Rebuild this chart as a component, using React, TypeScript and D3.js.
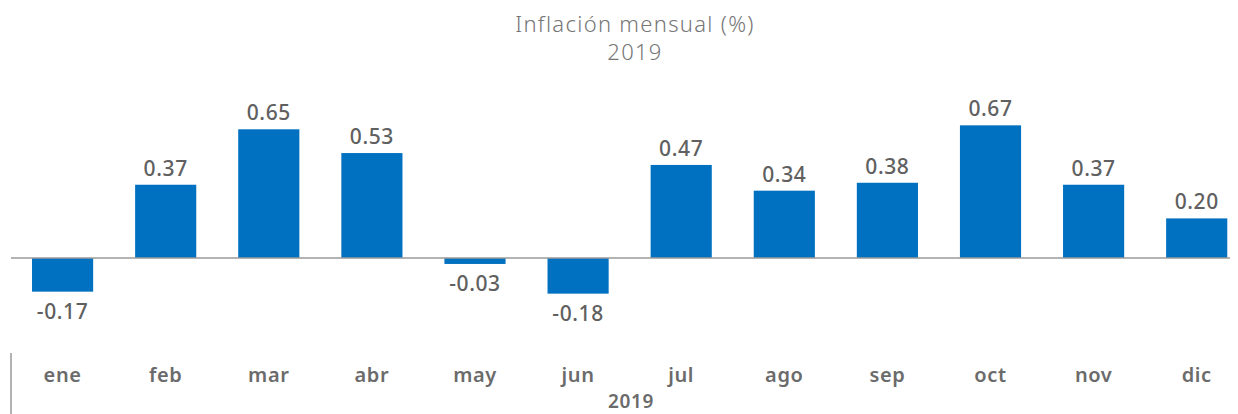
import React from "react";
import * as d3 from "d3";

const months = ["ene", "feb", "mar", "abr", "may", "jun", "jul", "ago", "sep", "oct", "nov", "dic"];
const inflation = [-0.17, 0.37, 0.65, 0.53, -0.03, -0.18, 0.47, 0.34, 0.38, 0.67, 0.37, 0.2];
const titleLines = ["Inflación mensual (%)", "2019"];
const axisTitle = "2019";

const App = () => {
  const width = 1238;
  const height = 414;
  const font = "'Noto Sans', 'Open Sans', sans-serif";

  const x = d3.scaleBand<string>().domain(months).range([11.4, 1247.9]).paddingInner(0.407).paddingOuter(0.2);
  const y = d3.scaleLinear().domain([0, 1]).range([258, 60]);

  return (
    <svg width={width} height={height} style={{ position: "absolute", left: 0, top: 0 }}>
      <rect width={width} height={height} fill="#fff" />
      {titleLines.map((t, i) => (
        <text
          key={i}
          x={635}
          y={32 + i * 28}
          textAnchor="middle"
          fontFamily={font}
          fontSize={22}
          letterSpacing={1.3}
          fill="#767676"
          fontWeight={300}
        >
          {t}
        </text>
      ))}
      {inflation.map((v, i) => {
        const bx = x(months[i])!;
        const top = Math.min(y(v), y(0));
        const h = Math.abs(y(v) - y(0));
        const lx = bx + x.bandwidth() / 2;
        return (
          <g key={i}>
            <rect x={bx} y={top} width={x.bandwidth()} height={h} fill="#0070C0" />
            <text
              x={lx}
              y={v >= 0 ? y(v) - 9 : y(v) + 27}
              textAnchor="middle"
              fontFamily={font}
              fontSize={21}
              letterSpacing={0.6}
              fontWeight={500}
              fill="#606060"
            >
              {v.toFixed(2)}
            </text>
            <text
              x={lx}
              y={382}
              textAnchor="middle"
              fontFamily={font}
              fontSize={20}
              letterSpacing={0.6}
              fontWeight={600}
              fill="#6b6b6b"
            >
              {months[i]}
            </text>
          </g>
        );
      })}
      <line x1={11} x2={1230} y1={y(0)} y2={y(0)} stroke="#9a9a9a" strokeWidth={1.5} />
      <line x1={11} x2={11} y1={353} y2={414} stroke="#9a9a9a" strokeWidth={1.5} />
      <text
        x={631}
        y={408}
        textAnchor="middle"
        fontFamily={font}
        fontSize={19}
        letterSpacing={0.6}
        fontWeight={600}
        fill="#6b6b6b"
      >
        {axisTitle}
      </text>
    </svg>
  );
};

export default App;
